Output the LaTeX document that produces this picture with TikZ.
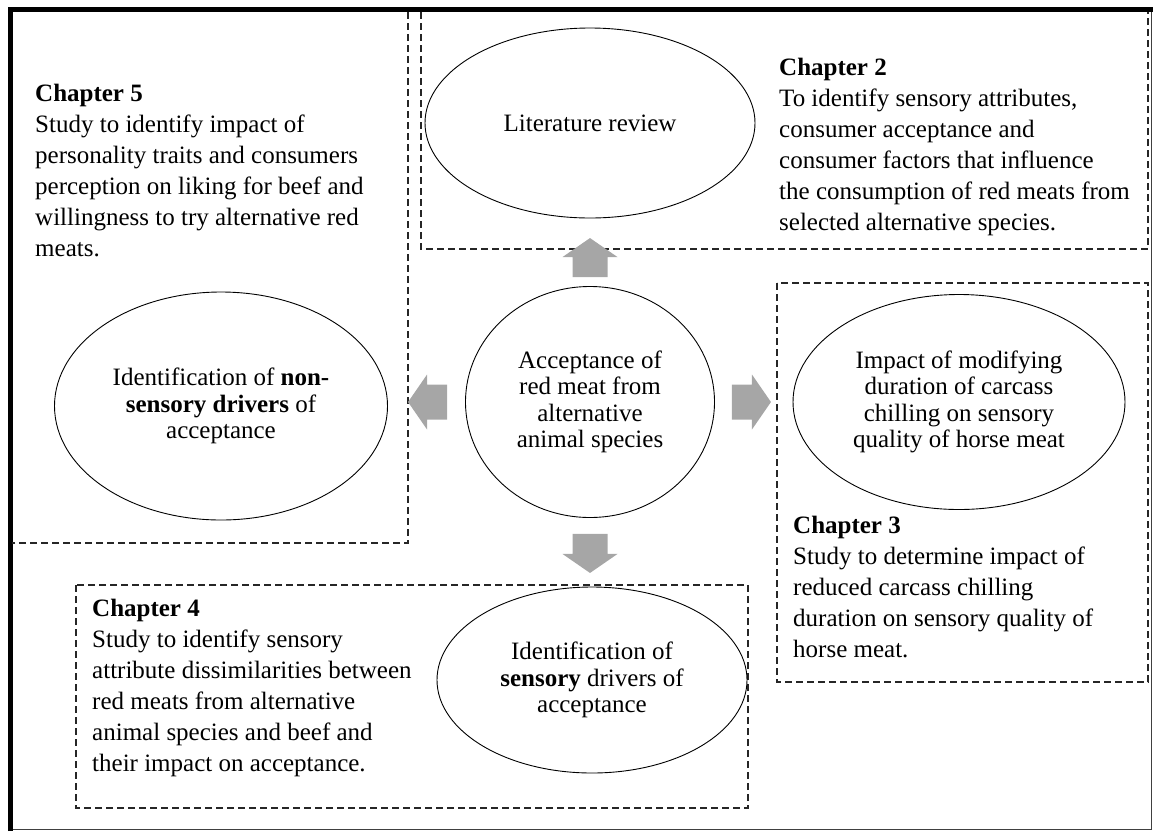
\documentclass[tikz,border=0pt]{standalone}
\usepackage{fontspec}
\setmainfont{Liberation Serif}
\usetikzlibrary{shapes.geometric}

\tikzset{
  chapbox/.style={draw=black!85, line width=1.6pt, dash pattern=on 7pt off 4pt},
  bubble/.style={draw, ellipse, line width=0.9pt, align=center, inner sep=0pt,
    font=\fontsize{25}{26.5}\selectfont},
  chaptext/.style={anchor=north west, align=left, inner sep=0pt,
    font=\fontsize{25}{31}\selectfont},
  blockarrow/.style={fill=black!35}
}

\begin{document}
\begin{tikzpicture}[x=1pt,y=-1pt]
  \useasboundingbox (0,0) rectangle (1153,831);
  % outer frame
  \draw[black!75, line width=1.5pt] (10,829.5) -- (1151.5,829.5) -- (1151.5,10);
  \draw[line width=5pt] (10,831) -- (10,9.5) -- (1153,9.5);
  % dashed chapter boxes
  \draw[chapbox] (408,12) -- (408,543) -- (12,543);
  \draw[chapbox] (421,12) -- (421,249) -- (1148,249) -- (1148,12);
  \draw[chapbox] (777,283) rectangle (1148,682);
  \draw[chapbox] (76,585) rectangle (748,808);

  \node[bubble, minimum width=330, minimum height=190] (litrev) at (590,123) {Literature review};
  \node[bubble, minimum width=249, minimum height=231] (accept) at (590,402) {Acceptance of\\red meat from\\alternative\\animal species};
  \node[bubble, minimum width=333, minimum height=228] (nonsens) at (221,406) {Identification of \textbf{non-}\\\textbf{sensory drivers} of\\acceptance};
  \node[bubble, minimum width=332, minimum height=215] (impact) at (959,402) {Impact of modifying\\duration of carcass\\chilling on sensory\\quality of horse meat};
  \node[bubble, minimum width=310, minimum height=186] (sensory) at (592,680) {Identification of\\\textbf{sensory} drivers of\\acceptance};

  \foreach \ang/\side/\gap in {90/north/9, 180/west/18, 0/east/17, -90/south/16} {
    \fill[blockarrow, shift={(accept.\side)}, rotate=\ang]
      (\gap,-17.5) -- ++(20,0) -- ++(0,-10) -- ++(19,27.5) -- ++(-19,27.5) -- ++(0,-10) -- ++(-20,0) -- cycle;
  }

  \node[chaptext] (ch5) at (35,84) {\textbf{Chapter 5}\\Study to identify impact of\\personality traits and consumers\\perception on liking for beef and\\willingness to try alternative red\\meats.};
  \node[chaptext] (ch2) at (779,58) {\textbf{Chapter 2}\\To identify sensory attributes,\\consumer acceptance and\\consumer factors that influence\\the consumption of red meats from\\selected alternative species.};
  \node[chaptext] (ch3) at (793,516) {\textbf{Chapter 3}\\Study to determine impact of\\reduced carcass chilling\\duration on sensory quality of\\horse meat.};
  \node[chaptext] (ch4) at (92,599) {\textbf{Chapter 4}\\Study to identify sensory\\attribute dissimilarities between\\red meats from alternative\\animal species and beef and\\their impact on acceptance.};
\end{tikzpicture}
\end{document}
